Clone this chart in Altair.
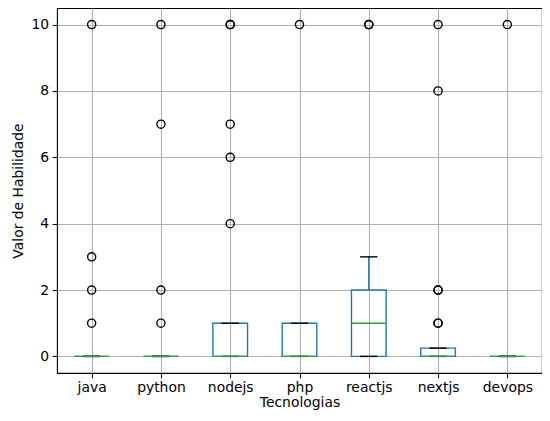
import altair as alt
import pandas as pd

categories = ["java", "python", "nodejs", "php", "reactjs", "nextjs", "devops"]
q1 = [0, 0, 0, 0, 0, 0, 0]
median = [0, 0, 0, 0, 1, 0, 0]
q3 = [0, 0, 1, 1, 2, 0.25, 0]
whisker_low = [0, 0, 0, 0, 0, 0, 0]
whisker_high = [0, 0, 1, 1, 3, 0.25, 0]
outliers = {
    "java": [1, 2, 3, 10],
    "python": [1, 2, 7, 10],
    "nodejs": [4, 6, 7, 10, 10],
    "php": [10],
    "reactjs": [10, 10],
    "nextjs": [1, 1, 2, 2, 8, 10],
    "devops": [10],
}

FONT = "DejaVu Sans"
BLUE = "#1f77b4"
GREEN = "#2ca02c"
LW = 1.39
FS = 13.9

stats = pd.DataFrame({
    "cat": categories,
    "pos": list(range(1, len(categories) + 1)),
    "q1": q1, "median": median, "q3": q3,
    "wlo": whisker_low, "whi": whisker_high,
})
fl = pd.DataFrame([
    {"cat": c, "pos": categories.index(c) + 1, "v": v}
    for c, vals in outliers.items() for v in vals
])

label_expr = "[" + ",".join(f"'{c}'" for c in categories) + "][datum.value - 1]"

xscale = alt.Scale(domain=[0.5, len(categories) + 0.5], nice=False, zero=False)
yscale = alt.Scale(domain=[-0.5, 10.5], nice=False, zero=False)

xaxis = alt.Axis(values=list(range(1, len(categories) + 1)), labelExpr=label_expr,
                 title="Tecnologias", grid=True)
yaxis = alt.Axis(values=[0, 2, 4, 6, 8, 10], title="Valor de Habilidade", grid=True)

base = alt.Chart(stats).transform_calculate(
    xl="datum.pos - 0.25", xr="datum.pos + 0.25",
    cl="datum.pos - 0.125", cr="datum.pos + 0.125",
)

box = base.mark_rect(fill=None, stroke=BLUE, strokeWidth=LW).encode(
    x=alt.X("xl:Q", scale=xscale, axis=xaxis),
    x2="xr:Q",
    y=alt.Y("q1:Q", scale=yscale, axis=yaxis),
    y2="q3:Q",
)
whisk_hi = base.mark_rule(color=BLUE, strokeWidth=LW).encode(
    x=alt.X("pos:Q", scale=xscale), y=alt.Y("q3:Q", scale=yscale), y2="whi:Q")
whisk_lo = base.mark_rule(color=BLUE, strokeWidth=LW).encode(
    x=alt.X("pos:Q", scale=xscale), y=alt.Y("wlo:Q", scale=yscale), y2="q1:Q")
cap_hi = base.mark_rule(color="black", strokeWidth=LW).encode(
    x=alt.X("cl:Q", scale=xscale), x2="cr:Q", y=alt.Y("whi:Q", scale=yscale))
cap_lo = base.mark_rule(color="black", strokeWidth=LW).encode(
    x=alt.X("cl:Q", scale=xscale), x2="cr:Q", y=alt.Y("wlo:Q", scale=yscale))
med = base.mark_rule(color=GREEN, strokeWidth=LW).encode(
    x=alt.X("xl:Q", scale=xscale), x2="xr:Q", y=alt.Y("median:Q", scale=yscale))
fliers = alt.Chart(fl).mark_point(shape="circle", filled=False, stroke="black",
                                  strokeWidth=LW, size=66, opacity=1).encode(
    x=alt.X("pos:Q", scale=xscale), y=alt.Y("v:Q", scale=yscale))

chart = alt.layer(box, whisk_hi, whisk_lo, cap_hi, cap_lo, med, fliers).properties(
    width=485, height=365,
    autosize=alt.AutoSizeParams(type="none"),
    padding={"left": 49, "top": 0, "right": 0, "bottom": 40},
).configure_view(
    stroke="black", strokeWidth=1.1
).configure_axis(
    domain=False,
    gridColor="#b0b0b0", gridWidth=1.1,
    tickColor="black", tickSize=4.8, tickWidth=1.1,
    labelColor="black", labelFont=FONT, labelFontSize=FS,
    labelPadding=3.5,
    titleColor="black", titleFont=FONT, titleFontSize=FS, titleFontWeight="normal",
).configure_axisX(labelPadding=2.5, titlePadding=1).configure_axisY(titlePadding=6)

chart.save("out.html", embed_options={"renderer": "svg", "actions": False})
